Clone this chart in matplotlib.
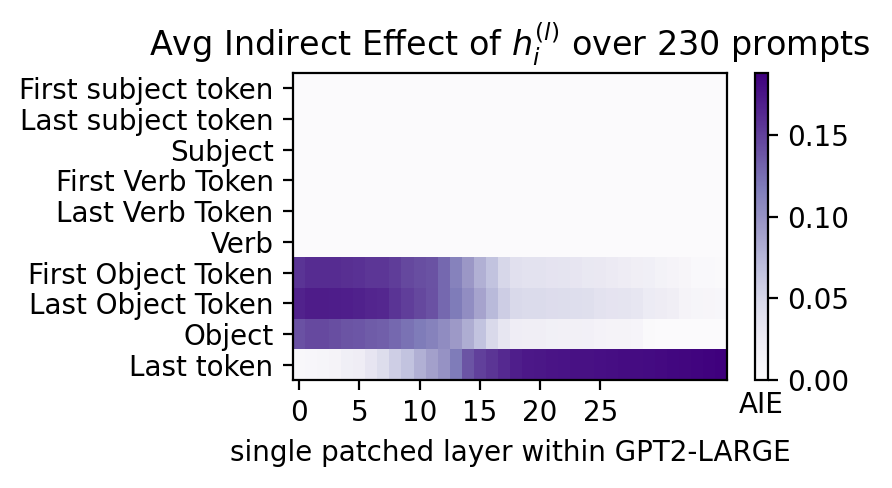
import numpy as np
import matplotlib
matplotlib.use('Agg')
import matplotlib.pyplot as plt

plt.rcParams['font.family'] = ['DejaVu Sans']

row_labels = ['First subject token', 'Last subject token', 'Subject',
              'First Verb Token', 'Last Verb Token', 'Verb',
              'First Object Token', 'Last Object Token', 'Object', 'Last token']

n_layers = 36
zero_row = [0.001] * n_layers

first_obj = [0.157, 0.161, 0.161, 0.161, 0.160, 0.158, 0.155, 0.155, 0.152, 0.146,
             0.142, 0.140, 0.128, 0.113, 0.096, 0.079, 0.066, 0.049, 0.039, 0.037,
             0.036, 0.035, 0.034, 0.033, 0.030, 0.029, 0.027, 0.024, 0.022, 0.020,
             0.015, 0.013, 0.009, 0.005, 0.004, 0.003]
last_obj = [0.167, 0.171, 0.171, 0.170, 0.169, 0.168, 0.165, 0.164, 0.157, 0.151,
            0.146, 0.141, 0.128, 0.118, 0.104, 0.088, 0.072, 0.057, 0.047, 0.046,
            0.045, 0.044, 0.043, 0.042, 0.041, 0.036, 0.035, 0.034, 0.032, 0.026,
            0.024, 0.022, 0.013, 0.010, 0.009, 0.008]
obj = [0.141, 0.145, 0.145, 0.142, 0.139, 0.138, 0.135, 0.133, 0.128, 0.123,
       0.118, 0.113, 0.105, 0.094, 0.081, 0.066, 0.047, 0.032, 0.023, 0.022,
       0.021, 0.019, 0.018, 0.018, 0.017, 0.014, 0.013, 0.012, 0.011, 0.003,
       0.002, 0.002, 0.001, 0.001, 0.001, 0.001]
last_tok = [0.007, 0.008, 0.010, 0.013, 0.020, 0.023, 0.033, 0.043, 0.056, 0.066,
            0.079, 0.090, 0.100, 0.118, 0.139, 0.150, 0.156, 0.163, 0.169, 0.173,
            0.174, 0.175, 0.176, 0.177, 0.177, 0.178, 0.179, 0.180, 0.180, 0.181,
            0.182, 0.183, 0.184, 0.185, 0.186, 0.188]

aie = np.array([zero_row] * 6 + [first_obj, last_obj, obj, last_tok])

fig = plt.figure(figsize=(4.46, 2.44), dpi=200)
ax = fig.add_axes([0.3285, 0.2213, 0.4865, 0.629])
cax = fig.add_axes([0.8464, 0.2213, 0.0146, 0.629])

im = ax.imshow(aie, cmap='Purples', vmin=0, aspect='auto', interpolation='nearest')
ax.set_yticks(range(len(row_labels)))
ax.set_yticklabels(row_labels)
ax.set_xticks(range(0, 30, 5))
ax.set_xlabel('single patched layer within GPT2-LARGE')
ax.set_title(r'Avg Indirect Effect of $h_i^{(l)}$ over 230 prompts')

cb = fig.colorbar(im, cax=cax)
cb.set_ticks([0.0, 0.05, 0.10, 0.15])
cb.ax.set_xlabel('AIE')

fig.savefig('out.png', dpi=200)
